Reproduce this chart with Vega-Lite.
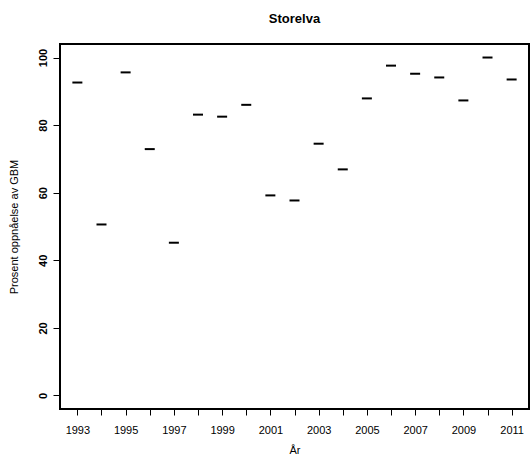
{
  "$schema": "https://vega.github.io/schema/vega-lite/v6.json",
  "width": 469,
  "height": 365,
  "autosize": {"type": "none"},
  "padding": {"left": 60, "top": 44, "right": 1, "bottom": 55},
  "background": "white",
  "title": {
    "text": "Storelva",
    "font": "Liberation Sans",
    "fontSize": 13,
    "fontWeight": "bold",
    "color": "black",
    "anchor": "middle",
    "baseline": "alphabetic",
    "offset": 8
  },
  "config": {
    "view": {"stroke": "black", "strokeWidth": 2},
    "axis": {
      "labelFont": "Liberation Sans",
      "titleFont": "Liberation Sans",
      "labelColor": "black",
      "titleColor": "black",
      "tickColor": "black",
      "grid": false,
      "domain": false
    }
  },
  "data": {
    "values": [
      {"year": 1993, "value": 92.6},
      {"year": 1994, "value": 50.6},
      {"year": 1995, "value": 95.6},
      {"year": 1996, "value": 72.9},
      {"year": 1997, "value": 45.2},
      {"year": 1998, "value": 83.1},
      {"year": 1999, "value": 82.5},
      {"year": 2000, "value": 86.0},
      {"year": 2001, "value": 59.2},
      {"year": 2002, "value": 57.7},
      {"year": 2003, "value": 74.5},
      {"year": 2004, "value": 66.9},
      {"year": 2005, "value": 87.9},
      {"year": 2006, "value": 97.6},
      {"year": 2007, "value": 95.2},
      {"year": 2008, "value": 94.1},
      {"year": 2009, "value": 87.3},
      {"year": 2010, "value": 100.0},
      {"year": 2011, "value": 93.5}
    ]
  },
  "mark": {"type": "tick", "orient": "horizontal", "size": 10, "thickness": 2, "color": "black", "opacity": 1},
  "encoding": {
    "x": {
      "field": "year",
      "type": "quantitative",
      "scale": {"domain": [1992.28, 2011.72], "nice": false, "zero": false},
      "axis": {
        "title": "År",
        "titleFontSize": 11,
        "titleFontWeight": "normal",
        "titlePadding": 9,
        "values": [1993,1994,1995,1996,1997,1998,1999,2000,2001,2002,2003,2004,2005,2006,2007,2008,2009,2010,2011],
        "labelExpr": "datum.value % 2 == 1 ? datum.value + '' : ''",
        "labelFontSize": 11,
        "labelPadding": 9,
        "tickSize": 6,
        "tickWidth": 1,
        "labelOverlap": false,
        "labelFlush": false
      }
    },
    "y": {
      "field": "value",
      "type": "quantitative",
      "scale": {"domain": [-4, 104], "nice": false, "zero": false},
      "axis": {
        "title": "Prosent oppnåelse av GBM",
        "titleFontSize": 11,
        "titleFontWeight": "normal",
        "titlePadding": 18,
        "values": [0, 20, 40, 60, 80, 100],
        "labelAngle": -90,
        "labelAlign": "center",
        "labelBaseline": "alphabetic",
        "labelFontSize": 11,
        "labelFontWeight": "bold",
        "labelPadding": 7,
        "tickSize": 7,
        "tickWidth": 1
      }
    }
  }
}
